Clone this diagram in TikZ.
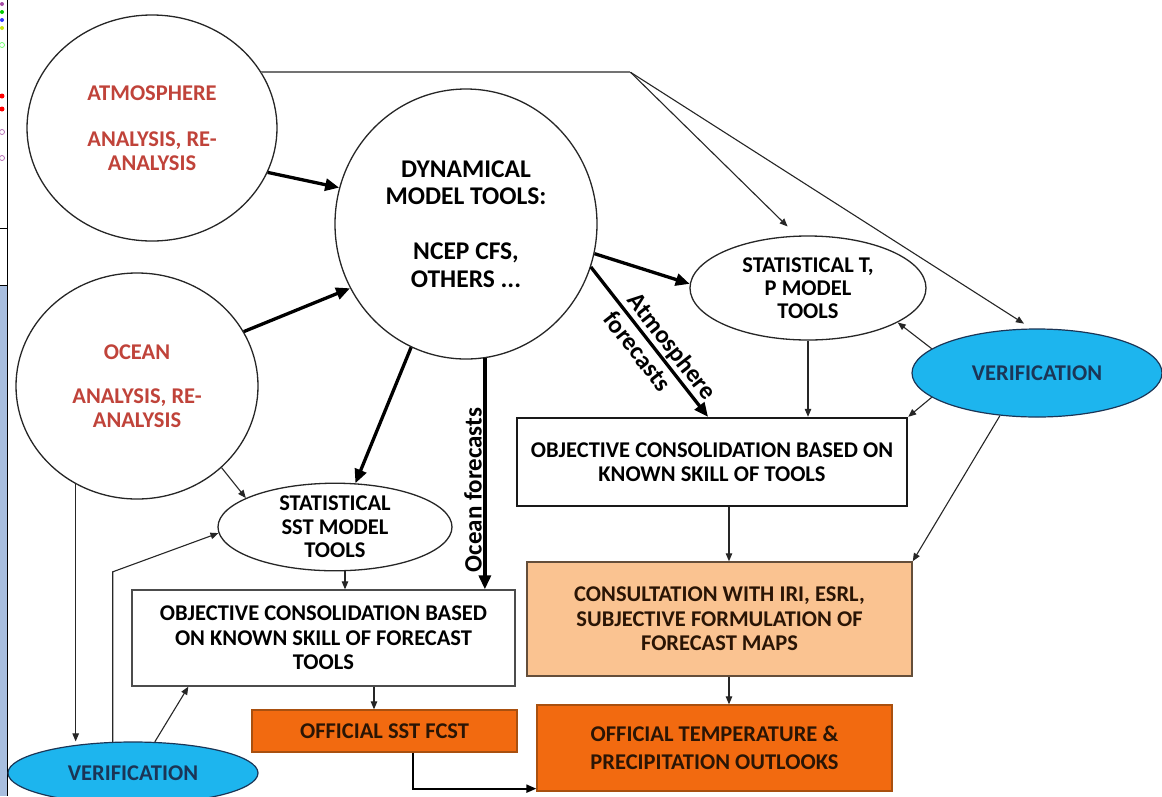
\documentclass[tikz,border=0pt]{standalone}
\usepackage{fontspec}
\setmainfont{Carlito}
\usetikzlibrary{arrows.meta,shapes.geometric}
\definecolor{redtxt}{HTML}{C0433A}
\definecolor{cyanfill}{HTML}{1DB5EE}
\definecolor{navytxt}{HTML}{1B3556}
\definecolor{peach}{HTML}{FAC391}
\definecolor{orangefill}{HTML}{F26A10}
\definecolor{orangedraw}{HTML}{A9500F}
\definecolor{darktxt}{HTML}{2A1505}
\definecolor{stripblue}{HTML}{A8BEDF}
\begin{document}
\begin{tikzpicture}[x=1pt,y=-1pt,
  txt/.style={font=\fontsize{22.5}{24}\selectfont\bfseries, align=center},
  circ/.style={ellipse, draw=black!85, line width=1.3pt, inner sep=0pt, txt},
  ver/.style={ellipse, draw=navytxt, line width=1.2pt, fill=cyanfill, text=navytxt, inner sep=0pt, txt},
  box/.style={rectangle, inner sep=2pt, txt},
  thickarrow/.style={line width=3.3pt, -{Triangle[length=14pt,width=12pt]}},
  thinarrow/.style={line width=1.1pt, draw=black!85, -{Triangle[length=8pt,width=6.5pt]}},
  midarrow/.style={line width=2pt, -{Triangle[length=10pt,width=8pt]}},
  toplinestyle/.style={line width=1.8pt, draw=black!55},
  lbl/.style={font=\fontsize{25}{28}\selectfont\bfseries, inner sep=1.5pt}
]
\useasboundingbox (0,0) rectangle (1162,796);
\fill[white] (0,0) rectangle (1162,796);

% left strip
\fill[stripblue] (0,285) rectangle (7,796);
\draw[line width=0.8pt] (0,228) -- (7,228);
\draw[line width=0.8pt] (0,285) -- (7,285);
\draw[line width=1.5pt] (7.5,0) -- (7.5,796);
\fill[violet!70] (2,4) circle (2pt);
\fill[green!80!black] (2,12) circle (2pt);
\fill[blue!80] (2,20) circle (2pt);
\fill[yellow!80!green] (2,28) circle (2pt);
\fill[red] (2,96) circle (2.5pt);
\fill[red] (2,109) circle (2.5pt);
\draw[violet!60, line width=0.7pt] (2,132) circle (2.5pt);
\draw[violet!60, line width=0.7pt] (2,158) circle (2.5pt);
\draw[green!60, line width=0.7pt] (2,45) circle (2.5pt);

% shapes
\node[circ, text=redtxt, minimum width=250pt, minimum height=226pt] (atm) at (152,128)
  {ATMOSPHERE\\[22pt]ANALYSIS, RE-\\ANALYSIS};
\node[circ, text=redtxt, minimum width=242pt, minimum height=226pt] (ocn) at (137,386)
  {OCEAN\\[20pt]ANALYSIS, RE-\\ANALYSIS};
\node[circ, font=\fontsize{25.5}{27.5}\selectfont\bfseries, minimum width=262pt, minimum height=270pt] (dyn) at (466,224)
  {DYNAMICAL\\MODEL TOOLS:\\[27.5pt]NCEP CFS,\\OTHERS ...};
\node[circ, font=\fontsize{22.5}{23}\selectfont\bfseries, minimum width=236pt, minimum height=104pt] (stp) at (808,288)
  {STATISTICAL T,\\P MODEL\\TOOLS};
\node[circ, font=\fontsize{22.5}{23.5}\selectfont\bfseries, minimum width=234pt, minimum height=80pt] (sst) at (335,527)
  {STATISTICAL\\SST MODEL\\TOOLS};
\node[ver, minimum width=250pt, minimum height=88pt] (verR) at (1037,373) {VERIFICATION};
\node[ver, minimum width=250pt, minimum height=62pt] (verL) at (133,773) {VERIFICATION};

\node[box, draw=black!90, line width=2.4pt, minimum width=390pt, minimum height=88pt] (objR) at (712,462)
  {OBJECTIVE CONSOLIDATION BASED ON\\KNOWN SKILL OF TOOLS};
\node[box, draw=black!70, line width=1.3pt, font=\fontsize{22.5}{24.5}\selectfont\bfseries, minimum width=383pt, minimum height=96pt] (objL) at (323.5,638)
  {OBJECTIVE CONSOLIDATION BASED\\ON KNOWN SKILL OF FORECAST\\TOOLS};
\node[box, draw=black!60!peach, fill=peach, line width=1.5pt, text=darktxt, font=\fontsize{22.5}{24.5}\selectfont\bfseries, minimum width=385pt, minimum height=114pt] (consult) at (719.5,619)
  {CONSULTATION WITH IRI, ESRL,\\SUBJECTIVE FORMULATION OF\\FORECAST MAPS};
\node[box, draw=orangedraw, fill=orangefill, line width=1.3pt, text=darktxt, minimum width=265pt, minimum height=42pt] (offSST) at (384.5,731)
  {OFFICIAL SST FCST};
\node[box, draw=orangedraw, fill=orangefill, line width=1.3pt, text=darktxt, font=\fontsize{22.5}{28}\selectfont\bfseries, minimum width=355pt, minimum height=86pt] (offT) at (714.5,748)
  {OFFICIAL TEMPERATURE \&\\PRECIPITATION OUTLOOKS};

% thick connectors
\draw[thickarrow] (atm.-21) -- (dyn.164);
\draw[thickarrow] (ocn.27) -- (dyn.209);
\draw[thickarrow] (dyn.-13) -- (stp.178);
\draw[thickarrow] (dyn.-19) --
  node[lbl, pos=0.59, sloped, above] {Atmosphere}
  node[lbl, pos=0.5, sloped, below=3pt] {forecasts}
  ([xshift=-4pt]objR.north);
\draw[thickarrow] (dyn.-82) --
  node[lbl, pos=0.57, rotate=90, anchor=south] {Ocean forecasts}
  (dyn.-82 |- objL.north);
\draw[thickarrow] (dyn.-114) -- (sst.65);

% top line and thin connectors
\draw[toplinestyle] (atm.27) -- ++(369,0) coordinate (split);
\draw[thinarrow, shorten >=13pt] (split) -- (stp.102);
\draw[thinarrow, shorten >=9pt] (split) -- (verR.97);
\draw[thinarrow] (verR.167) -- (stp.-21);
\draw[thinarrow] (verR.193) -- (objR.north east);
\draw[thinarrow] (verR.-131) -- (consult.north east);
\draw[thinarrow] (stp.south) -- (stp.south |- objR.north);
\coordinate (cx) at (729,0);
\draw[thinarrow] (objR.south -| cx) -- (consult.north -| cx);
\draw[thinarrow] (consult.south -| cx) -- (offT.north -| cx);

\draw[thinarrow] (ocn.-122) -- (ocn.-122 |- verL.north);
\draw[thinarrow] (ocn.-44) -- (sst.162);
\draw[thinarrow] (verL.123) -- ++(0,-170) -- (sst.183);
\draw[thinarrow] (verL.55) -- ([xshift=57pt]objL.south west);
\draw[thinarrow] ([xshift=10pt]sst.south) -- ([xshift=10pt]sst.south |- objL.north);
\draw[thinarrow] ([xshift=-10.5pt]offSST.north |- objL.south) -- ([xshift=-10.5pt]offSST.north);
\draw[midarrow] ([xshift=28.5pt]offSST.south) |- ([yshift=3pt]offT.south west);
\end{tikzpicture}
\end{document}
